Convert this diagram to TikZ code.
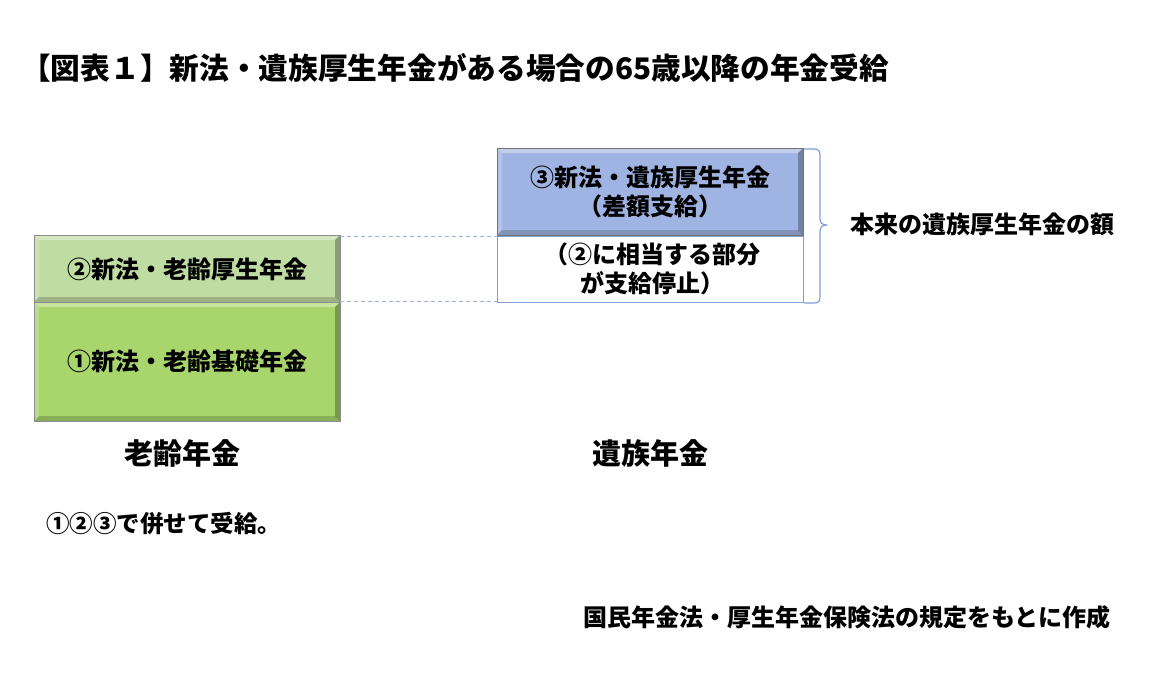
\documentclass[tikz,border=0pt]{standalone}
\usepackage{fontspec}
\setmainfont{Noto Sans CJK JP}
\usetikzlibrary{calc}
\definecolor{greenA}{HTML}{BFDCA2}
\definecolor{greenB}{HTML}{A8D56C}
\definecolor{blueA}{HTML}{9FB4E2}
\definecolor{lineblue}{HTML}{7F9FD6}
\definecolor{dashblue}{HTML}{9DB3DD}
\tikzset{
  lbl/.style={font=\bfseries\fontsize{24}{29}\selectfont, inner sep=0pt, align=center},
  bigt/.style={font=\bfseries\fontsize{29.7}{34}\selectfont, inner sep=0pt},
  colt/.style={font=\bfseries\fontsize{29}{34}\selectfont, inner sep=0pt},
  note/.style={font=\bfseries\fontsize{23.5}{28}\selectfont, inner sep=0pt},
  linkdash/.style={draw=dashblue, line width=1pt, dash pattern=on 4pt off 3pt},
}
\newcommand{\bevel}[5]{% x1 y1 x2 y2 color
  \fill[white, opacity=0.35] (#1,#2) -- (#3,#2) -- (#3-5,#2+5) -- (#1+5,#2+5) -- cycle;
  \fill[white, opacity=0.2] (#1,#2) -- (#1+5,#2+5) -- (#1+5,#4-5) -- (#1,#4) -- cycle;
  \fill[black, opacity=0.28] (#3,#2) -- (#3,#4) -- (#3-5,#4-5) -- (#3-5,#2+5) -- cycle;
  \fill[black, opacity=0.18] (#1,#4) -- (#3,#4) -- (#3-5,#4-5) -- (#1+5,#4-5) -- cycle;
  \draw[#5, line width=0.8pt] (#1,#2) rectangle (#3,#4);
}
\begin{document}
\begin{tikzpicture}[x=1pt,y=-1pt]
\useasboundingbox (0,0) rectangle (1158,680);
\fill[white] (0,0) rectangle (1158,680);
% title
\node[bigt, anchor=west] (title) at (21,68) {【図表１】新法・遺族厚生年金がある場合の65歳以降の年金受給};
% green boxes
\fill[greenA] (34,235) rectangle (340,302);
\bevel{34}{235}{340}{302}{black!45}
\fill[greenB] (34,302) rectangle (340,421);
\bevel{34}{302}{340}{421}{black!45}
\node[lbl] (rouko) at (187,269) {②新法・老齢厚生年金};
\node[lbl] (kiso) at (187,361) {①新法・老齢基礎年金};
% blue box
\fill[blueA] (497,148) rectangle (803,235);
\bevel{497}{148}{803}{235}{black!55}
\node[lbl] (izoku) at (650,192) {③新法・遺族厚生年金\\（差額支給）};
% white box
\draw[lineblue, line width=0.9pt] (497,236) rectangle (803,302);
\node[lbl] (teishi) at (652,269) {（②に相当する部分\\が支給停止）};
% dashed links
\coordinate (d1a) at (340,236); \coordinate (d1b) at (497,236);
\coordinate (d2a) at (340,301); \coordinate (d2b) at (497,301);
\draw[linkdash] (d1a) -- (d1b);
\draw[linkdash] (d2a) -- (d2b);
% brace
\draw[lineblue, line width=1.2pt, line join=round]
  (804,149) -- (814,149) .. controls (819,149) and (820,151) .. (820,156)
  -- (820,218) .. controls (820,223) and (822,225) .. (827,225)
  .. controls (822,225) and (820,227) .. (820,232)
  -- (820,296) .. controls (820,301) and (819,303) .. (814,303) -- (804,303);
\node[lbl, anchor=west] (honrai) at (850,224) {本来の遺族厚生年金の額};
% column labels
\node[colt] (roureinenkin) at (182,453) {老齢年金};
\node[colt] (izokunenkin) at (650,453) {遺族年金};
% notes
\node[note, anchor=west] (awase) at (46,524) {①②③で併せて受給。};
\node[note, anchor=east, font=\bfseries\fontsize{24}{28}\selectfont] (source) at (1111,617) {国民年金法・厚生年金保険法の規定をもとに作成};
\end{tikzpicture}
\end{document}
